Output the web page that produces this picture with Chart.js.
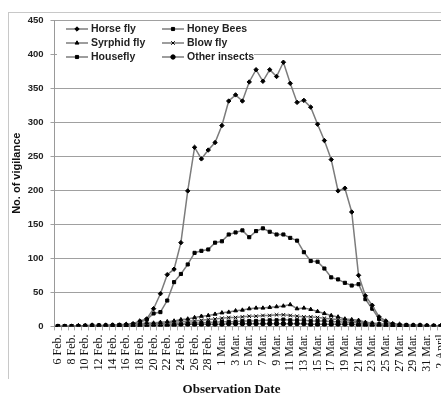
<!DOCTYPE html>
<html>
<head>
<meta charset="utf-8">
<script src="https://cdn.jsdelivr.net/npm/chart.js@4/dist/chart.umd.min.js"></script>
<style>
html, body { margin:0; padding:0; background:#fff; }
#wrap { position:relative; width:441px; height:397px; overflow:hidden; }
#frame { position:absolute; left:8px; top:12px; width:440px; height:366px;
  border-left:1px solid #c8c8c8; border-top:1px solid #c8c8c8; }
canvas { position:absolute; left:0; top:0; }
</style>
</head>
<body>
<div id="wrap">
<div id="frame"></div>
<canvas id="miGrafico" width="459" height="397"></canvas>
</div>
<script>
// fechas de observacion (una por dia)
let fechas = [
"6 Feb.","7 Feb.","8 Feb.","9 Feb.","10 Feb.","11 Feb.","12 Feb.","13 Feb.","14 Feb.","15 Feb.",
"16 Feb.","17 Feb.","18 Feb.","19 Feb.","20 Feb.","21 Feb.","22 Feb.","23 Feb.","24 Feb.","25 Feb.",
"26 Feb.","27 Feb.","28 Feb.","29 Feb.","1 Mar.","2 Mar.","3 Mar.","4 Mar.","5 Mar.","6 Mar.",
"7 Mar.","8 Mar.","9 Mar.","10 Mar.","11 Mar.","12 Mar.","13 Mar.","14 Mar.","15 Mar.","16 Mar.",
"17 Mar.","18 Mar.","19 Mar.","20 Mar.","21 Mar.","22 Mar.","23 Mar.","24 Mar.","25 Mar.","26 Mar.",
"27 Mar.","28 Mar.","29 Mar.","30 Mar.","31 Mar.","1 April","2 April"
];

let horseFly = [0,0,0,1,1,2,1,1,2,2, 3,4,8,11,26,48,76,84,123,199, 263,246,259,270,295,331,340,331,359,377,
360,377,367,388,357,329,332,322,297,273, 245,199,203,168,75,45,31,14,8,4, 3,2,2,2,1,1,1];
let honeyBees = [0,0,0,0,1,1,1,1,1,2, 2,3,6,10,19,21,38,65,77,91, 108,111,113,123,125,135,138,141,131,140,
144,139,135,135,130,126,109,96,95,85, 72,69,64,60,62,40,26,11,5,3, 2,2,1,1,1,1,0];
let syrphidFly = [0,0,0,1,1,1,1,2,2,2, 3,3,4,5,5,6,7,8,10,11, 13,15,16,18,20,21,23,24,26,27,
27,28,29,30,32,26,27,25,22,19, 16,14,11,10,9,6,5,4,3,2, 2,1,1,1,1,0,0];
let blowFly = [0,0,0,0,1,1,1,1,1,2, 2,2,3,3,4,4,5,6,7,8, 8,9,10,11,12,13,13,14,15,15,
16,16,17,17,16,15,14,14,13,12, 11,10,9,8,7,5,4,3,2,2, 1,1,1,1,0,0,0];
let houseFly = [0,0,0,0,0,1,1,1,1,1, 1,2,2,2,3,3,3,4,4,5, 5,5,6,6,7,7,7,8,8,8,
9,9,9,10,9,9,9,8,8,8, 7,7,6,6,5,4,3,3,2,2, 1,1,1,1,0,0,0];
let otherInsects = [0,0,0,0,0,0,1,1,1,1, 1,1,1,2,2,2,2,2,3,3, 3,3,3,3,3,4,4,4,4,4,
4,4,4,4,4,4,4,3,3,3, 3,3,3,3,2,2,2,2,1,1, 1,1,1,1,0,0,0];

let nombres = ["Horse fly","Honey Bees","Syrphid fly","Blow fly","Housefly","Other insects"];
let series = [horseFly, honeyBees, syrphidFly, blowFly, houseFly, otherInsects];
let marcas = ["rectRot","rect","triangle","crossRot","rect","circle"];

let datasets = series.map(function(d, i){
  return {
    label:nombres[i],
    data:d,
    borderColor:"#7c7c7c",
    borderWidth:1.5,
    pointStyle:marcas[i],
    pointRadius:i==3 ? 2.5 : 2.2,
    pointBackgroundColor:"#000",
    pointBorderColor:"#000",
    pointBorderWidth:1,
    tension:0
  };
});

// leyenda dibujada dentro del area del grafico
let leyenda = {
  id:"leyenda",
  afterDatasetsDraw(chart){
    let ctx = chart.ctx;
    ctx.save();
    ctx.fillStyle = "#fff";
    ctx.fillRect(57, 22, 197, 42);
    let pos = [[66,29],[162,29],[66,43],[162,43],[66,57],[162,57]];
    ctx.font = "bold 10.5px 'Liberation Sans', Arial, sans-serif";
    ctx.textBaseline = "middle";
    chart.data.datasets.forEach(function(ds, i){
      let x = pos[i][0], y = pos[i][1];
      ctx.strokeStyle = "#7c7c7c";
      ctx.lineWidth = 1.5;
      ctx.beginPath();
      ctx.moveTo(x, y);
      ctx.lineTo(x + 22, y);
      ctx.stroke();
      ctx.fillStyle = "#000";
      ctx.strokeStyle = "#000";
      ctx.lineWidth = 1;
      Chart.helpers.drawPoint(ctx, {pointStyle:ds.pointStyle, radius:ds.pointRadius, borderWidth:1, rotation:0}, x + 11, y);
      ctx.fillStyle = "#222";
      ctx.fillText(ds.label, x + 25, y);
    });
    ctx.restore();
  }
};

let ctx = document.getElementById("miGrafico").getContext("2d");

let grafico = new Chart(ctx, {
  type:'line',
  data:{
    labels:fechas,
    datasets:datasets
  },
  options:{
    responsive:false,
    animation:false,
    layout:{ padding:{ top:20, right:6, bottom:0, left:10 } },
    plugins:{
      legend:{ display:false },
      tooltip:{ enabled:false },
      title:{
        display:true,
        position:'bottom',
        text:'Observation Date',
        color:'#111',
        font:{ family:"'Liberation Serif', 'Times New Roman', serif", size:13, weight:'bold' },
        padding:{ top:0, bottom:0 }
      }
    },
    scales:{
      x:{
        offset:true,
        afterFit:function(s){ s.height = 55; },
        grid:{ display:true, drawOnChartArea:false, drawTicks:true, tickLength:4, color:'#aaa', offset:true },
        border:{ color:'#999' },
        ticks:{
          autoSkip:false,
          maxRotation:90,
          minRotation:90,
          padding:4,
          color:'#111',
          font:{ family:"'Liberation Serif', 'Times New Roman', serif", size:12 },
          callback:function(v, i){ return i % 2 == 0 ? this.getLabelForValue(v) : ''; }
        }
      },
      y:{
        min:0,
        max:450,
        afterFit:function(s){ s.width = 44.5; },
        grid:{ color:'#a0a0a0', tickLength:4, drawTicks:true },
        border:{ color:'#999' },
        title:{
          display:true,
          text:'No. of vigilance',
          color:'#111',
          font:{ family:"'Liberation Sans', Arial, sans-serif", size:11, weight:'bold' },
          padding:0
        },
        ticks:{
          stepSize:50,
          padding:7,
          color:'#222',
          font:{ family:"'Liberation Sans', Arial, sans-serif", size:9.5, weight:'bold' }
        }
      }
    }
  },
  plugins:[leyenda]
});
</script>
</body>
</html>
